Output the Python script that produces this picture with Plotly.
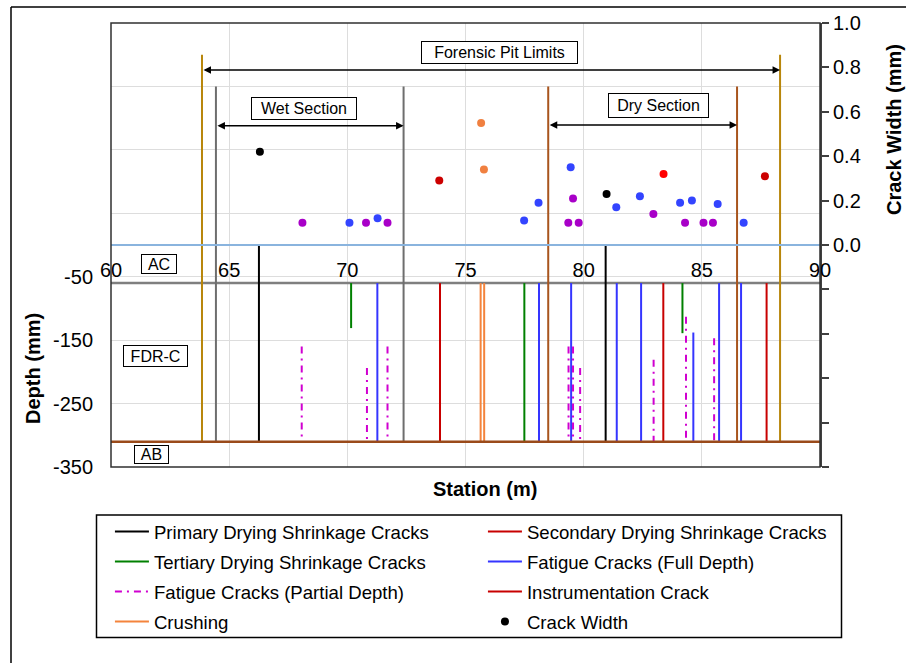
import plotly.graph_objects as go

# ---------------- data ----------------
station_ticks = [60, 65, 70, 75, 80, 85, 90]
depth_ticks = [-350, -250, -150, -50, 50, 150, 250, 350]
depth_tick_text = ['-350', '-250', '-150', '-50', '', '', '', '']
width_ticks = [-1.0, -0.8, -0.6, -0.4, -0.2, 0.0, 0.2, 0.4, 0.6, 0.8, 1.0]
width_tick_text = ['', '', '', '', '', '0.0', '0.2', '0.4', '0.6', '0.8', '1.0']

ac_bottom = -60      # AC / FDR-C interface (mm)
fdr_bottom = -310    # FDR-C / AB interface (mm)

# crack mapping: station (m), top depth, bottom depth (mm)
primary_st = [66.26, 80.93]
primary_top = [0, 0]
primary_bot = [-310, -310]

secondary_st = [73.92, 87.74]
secondary_top = [-60, -60]
secondary_bot = [-310, -310]

tertiary_st = [70.16, 77.49, 84.18]
tertiary_top = [-60, -60, -60]
tertiary_bot = [-131, -310, -139]

full_st = [71.27, 78.11, 79.47, 81.40, 82.43, 84.64, 85.73, 86.66]
full_top = [-60, -60, -60, -60, -60, -138, -60, -60]
full_bot = [-310, -310, -310, -310, -310, -310, -310, -310]

partial_st = [68.07, 70.83, 71.70, 79.36, 79.55, 79.85, 82.96, 84.33, 85.52]
partial_top = [-160, -194, -160, -160, -160, -194, -181, -113, -147]
partial_bot = [-310, -310, -310, -310, -310, -310, -310, -310, -310]

instr_st = [83.37]
instr_top = [-60]
instr_bot = [-310]

crushing_st = [75.64, 75.79]
crushing_top = [-60, -60]
crushing_bot = [-310, -310]

# crack width measurements
cw_station = [66.30, 68.10, 70.09, 70.79, 71.28, 71.70, 73.89, 75.66, 75.78, 77.48,
              78.09, 79.35, 79.45, 79.55, 79.79, 80.97, 81.38, 82.38, 82.95, 83.38,
              84.08, 84.29, 84.58, 85.07, 85.47, 85.67, 86.77, 87.67]
cw_width = [0.42, 0.10, 0.10, 0.10, 0.12, 0.10, 0.29, 0.55, 0.34, 0.11,
            0.19, 0.10, 0.35, 0.21, 0.10, 0.23, 0.17, 0.22, 0.14, 0.32,
            0.19, 0.10, 0.20, 0.10, 0.10, 0.185, 0.10, 0.31]
cw_type = ['primary', 'partial', 'full', 'partial', 'full', 'partial', 'secondary', 'crushing', 'crushing', 'full',
           'full', 'partial', 'full', 'partial', 'partial', 'primary', 'full', 'full', 'partial', 'instrumentation',
           'full', 'partial', 'full', 'partial', 'partial', 'full', 'full', 'secondary']

# section limits (stations) and heights (mm)
pit_limits = [63.85, 88.31]
pit_top = 300
wet_limits = [64.44, 72.38]
dry_limits = [78.50, 86.49]
section_top = 250
pit_arrow_depth = 276
wet_arrow_depth = 188
dry_arrow_depth = 189

# ---------------- styles ----------------
FONT = "Liberation Sans, Arial, sans-serif"
line_colors = {'primary': '#000000', 'secondary': '#C80000', 'tertiary': '#008000',
               'full': '#3535FF', 'partial': '#D000D0', 'instrumentation': '#C80000',
               'crushing': '#F4843C'}
point_colors = {'primary': '#000000', 'secondary': '#CC0000', 'full': '#3344FF',
                'partial': '#A800C8', 'instrumentation': '#FF0000', 'crushing': '#F08040'}

L, R, T, B = 111, 820, 23, 467
W, H = 906, 663


def px_x(px):
    return (px - L) / (R - L)


def px_y(py):
    return (B - py) / (B - T)


def segments(st, top, bot):
    xs, ys = [], []
    for s, t, b in zip(st, top, bot):
        xs += [s, s, None]
        ys += [t, b, None]
    return xs, ys


fig = go.Figure()

# layer boundaries
x_full = [station_ticks[0], station_ticks[-1]]
fig.add_trace(go.Scatter(x=x_full, y=[ac_bottom, ac_bottom], mode='lines',
                         line=dict(color='#7F7F7F', width=2.5), showlegend=False, hoverinfo='skip'))

# section limit lines
xs, ys = segments(pit_limits, [pit_top] * 2, [fdr_bottom] * 2)
fig.add_trace(go.Scatter(x=xs, y=ys, mode='lines', line=dict(color='#B8860B', width=2),
                         showlegend=False, hoverinfo='skip'))
xs, ys = segments(wet_limits, [section_top] * 2, [fdr_bottom] * 2)
fig.add_trace(go.Scatter(x=xs, y=ys, mode='lines', line=dict(color='#6E6E6E', width=2),
                         showlegend=False, hoverinfo='skip'))
xs, ys = segments(dry_limits, [section_top] * 2, [fdr_bottom] * 2)
fig.add_trace(go.Scatter(x=xs, y=ys, mode='lines', line=dict(color='#A8551E', width=2),
                         showlegend=False, hoverinfo='skip'))

cracks = [
    ('Primary Drying Shrinkage Cracks', 'primary', primary_st, primary_top, primary_bot, 'solid', 'legend'),
    ('Secondary Drying Shrinkage Cracks', 'secondary', secondary_st, secondary_top, secondary_bot, 'solid', 'legend'),
    ('Tertiary Drying Shrinkage Cracks', 'tertiary', tertiary_st, tertiary_top, tertiary_bot, 'solid', 'legend2'),
    ('Fatigue Cracks (Full Depth)', 'full', full_st, full_top, full_bot, 'solid', 'legend2'),
    ('Fatigue Cracks (Partial Depth)', 'partial', partial_st, partial_top, partial_bot, '7px,5px,2px,5px', 'legend3'),
    ('Instrumentation Crack', 'instrumentation', instr_st, instr_top, instr_bot, 'solid', 'legend3'),
    ('Crushing', 'crushing', crushing_st, crushing_top, crushing_bot, 'solid', 'legend4'),
]
for name, key, st, top, bot, dash, lg in cracks:
    xs, ys = segments(st, top, bot)
    fig.add_trace(go.Scatter(x=xs, y=ys, mode='lines', name=name, legend=lg,
                             line=dict(color=line_colors[key], width=2, dash=dash)))

fig.add_trace(go.Scatter(x=x_full, y=[fdr_bottom, fdr_bottom], mode='lines',
                         line=dict(color='#9A4A1A', width=2.5), showlegend=False, hoverinfo='skip'))

fig.add_trace(go.Scatter(x=cw_station, y=cw_width, mode='markers', name='Crack Width',
                         yaxis='y2', legend='legend4',
                         marker=dict(size=8, color=[point_colors[t] for t in cw_type])))

# ---------------- layout ----------------
row_centers = [531, 561, 591, 621]
legend_common = dict(orientation='h', entrywidth=324, itemwidth=34, xanchor='left', yanchor='top',
                     x=-0.0015, font=dict(family=FONT, size=18.6, color='#000000'),
                     bgcolor='rgba(0,0,0,0)', borderwidth=0, traceorder='normal')
legends = {}
for i, rc in enumerate(row_centers):
    key = 'legend' if i == 0 else 'legend%d' % (i + 1)
    legends[key] = dict(legend_common, y=px_y(rc - 18.2))

annotations = []


def box(text, cx, cy, w, h):
    annotations.append(dict(text=text, xref='paper', yref='paper', x=px_x(cx), y=px_y(cy),
                            xanchor='center', yanchor='middle', showarrow=False,
                            width=w, height=h, bordercolor='#000000', borderwidth=1,
                            borderpad=1, bgcolor='#FFFFFF',
                            font=dict(family=FONT, size=16, color='#000000')))


box('Forensic Pit Limits', 499, 53, 153, 19)
box('Wet Section', 304, 108.5, 102, 19)
box('Dry Section', 658, 106, 97, 21)
box('AC', 158.5, 263.5, 32, 16)
box('FDR-C', 155, 355.5, 61, 18)
box('AB', 151, 454, 31, 15)

for lims, d in [(pit_limits, pit_arrow_depth), (wet_limits, wet_arrow_depth), (dry_limits, dry_arrow_depth)]:
    annotations.append(dict(x=lims[1], y=d, ax=lims[0], ay=d, xref='x', yref='y', axref='x', ayref='y',
                            text='', showarrow=True, arrowside='end+start', arrowhead=2,
                            startarrowhead=2, arrowsize=1, startarrowsize=1, arrowwidth=1.5,
                            arrowcolor='#000000', standoff=0, startstandoff=0))

annotations.append(dict(text='<b>Station (m)</b>', xref='paper', yref='paper', x=px_x(485.5), y=px_y(489),
                        xanchor='center', yanchor='middle', showarrow=False,
                        font=dict(family=FONT, size=20, color='#000000')))
annotations.append(dict(text='<b>Depth (mm)</b>', xref='paper', yref='paper', x=px_x(33), y=px_y(369),
                        xanchor='center', yanchor='middle', showarrow=False, textangle=-90,
                        font=dict(family=FONT, size=20, color='#000000')))
annotations.append(dict(text='<b>Crack Width (mm)</b>', xref='paper', yref='paper', x=px_x(894), y=px_y(130),
                        xanchor='center', yanchor='middle', showarrow=False, textangle=-90,
                        font=dict(family=FONT, size=20, color='#000000')))

shapes = [
    # plot frame
    dict(type='rect', xref='paper', yref='paper', x0=0, x1=1, y0=0, y1=1,
         line=dict(color='#303030', width=1.5), layer='above'),
    # legend box
    dict(type='rect', xref='paper', yref='paper', x0=px_x(96.5), x1=px_x(841.5), y0=px_y(515), y1=px_y(637.5),
         line=dict(color='#000000', width=1.5), layer='above'),
    # outer chart frame
    dict(type='line', xref='paper', yref='paper', x0=px_x(11), x1=px_x(11), y0=px_y(7), y1=px_y(663),
         line=dict(color='#000000', width=1.5)),
    dict(type='line', xref='paper', yref='paper', x0=px_x(11), x1=px_x(906), y0=px_y(7), y1=px_y(7),
         line=dict(color='#000000', width=1.5)),
]

fig.update_layout(
    width=W, height=H,
    margin=dict(l=L, r=W - R, t=T, b=H - B, autoexpand=False),
    paper_bgcolor='#FFFFFF', plot_bgcolor='#FFFFFF',
    font=dict(family=FONT, size=20, color='#000000'),
    xaxis=dict(range=[station_ticks[0], station_ticks[-1]], tickvals=station_ticks,
               anchor='free', position=0.5, showline=True, linecolor='#8AB4DE', linewidth=2,
               ticks='outside', ticklen=7, tickcolor='rgba(0,0,0,0)',
               showgrid=True, gridcolor='#DDDDDD', gridwidth=1, zeroline=False,
               tickfont=dict(size=20), automargin=False),
    yaxis=dict(range=[-350, 350], tickvals=depth_ticks, ticktext=depth_tick_text,
               showline=False, showgrid=True, gridcolor='#DDDDDD', gridwidth=1, zeroline=False,
               ticks='outside', ticklen=13, tickcolor='rgba(0,0,0,0)',
               tickfont=dict(size=20), automargin=False),
    yaxis2=dict(range=[-1, 1], tickvals=width_ticks, ticktext=width_tick_text,
                overlaying='y', side='right', showline=True, linecolor='#404040', linewidth=2,
                ticks='outside', ticklen=7, tickcolor='#404040', tickwidth=1.5,
                showgrid=False, zeroline=False, tickfont=dict(size=20), automargin=False),
    annotations=annotations,
    shapes=shapes,
    **legends,
)

fig.write_html("out.html", config={'displayModeBar': False},
               post_script="document.body.style.margin='0';document.body.style.overflow='hidden';")
